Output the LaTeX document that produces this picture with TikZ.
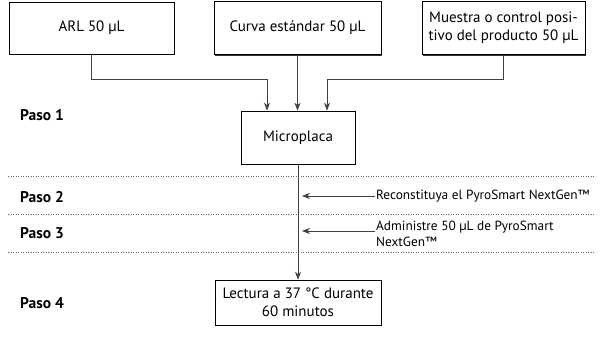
\documentclass[tikz,border=0pt]{standalone}
\usepackage{fontspec}
\setmainfont{PT Sans}
\usetikzlibrary{arrows.meta,shadows}

\begin{document}
\begin{tikzpicture}[x=1pt, y=-1pt,
  box/.style={draw, fill=white, line width=0.7pt, font=\fontsize{15}{18}\selectfont,
    align=center, inner sep=2pt,
    drop shadow={shadow xshift=1.2pt, shadow yshift=-1.2pt, fill=black!80, opacity=1}},
  paso/.style={anchor=west, inner sep=0pt, font=\fontsize{15.5}{18}\selectfont\bfseries},
  note/.style={anchor=west, align=left, inner sep=1pt, font=\fontsize{13.3}{16.5}\selectfont},
  conn/.style={draw=black!75, line width=0.7pt},
  arrow/.style={conn, -{Stealth[length=8pt, width=6pt]}},
  sep/.style={draw=black!60, line width=0.5pt, dotted}
]
\useasboundingbox (0,0) rectangle (600,344);

% input boxes
\node[box, minimum width=165pt, minimum height=52pt] (arl) at (91.5,28) {ARL 50 µL};
\node[box, minimum width=167pt, minimum height=53pt] (curva) at (297.5,28) {Curva estándar 50 µL};
\node[box, minimum width=163pt, minimum height=53pt] (muestra) at (503.5,28)
  {Muestra o control posi-\\tivo del producto 50 µL};
\node[box, minimum width=114pt, minimum height=53pt] (micro) at (298,137.5) {Microplaca};
\node[box, minimum width=166pt, minimum height=45pt] (lectura) at (298,302.5)
  {Lectura a 37 °C durante\\60 minutos};

% steps
\node[paso] (p1) at (20,115) {Paso 1};
\node[paso] (p2) at (20,197) {Paso 2};
\node[paso] (p3) at (20,233) {Paso 3};
\node[paso] (p4) at (20,303) {Paso 4};

\draw[sep] (8,176) -- (595,176);
\draw[sep] (8,214) -- (595,214);
\draw[sep] (8,252) -- (595,252);

% connectors
\coordinate (inl) at (267,79);
\coordinate (inr) at (327,79);
\draw[arrow] (arl.south) |- (inl) -- (inl |- micro.north);
\draw[arrow] (curva.south) -- (curva.south |- micro.north);
\draw[arrow] (muestra.south) |- (inr) -- (inr |- micro.north);
\draw[arrow] (micro.south) -- (lectura.north);

% reagents
\node[note] (rec) at (375,196) {Reconstituya el PyroSmart NextGen™};
\node[note] (adm) at (375,234) {Administre 50 µL de PyroSmart\\NextGen™};
\coordinate (recend) at (302,196);
\coordinate (admend) at (302,231);
\draw[arrow] (rec.west) -- (recend);
\draw[arrow] (adm.west |- admend) -- (admend);
\end{tikzpicture}
\end{document}
